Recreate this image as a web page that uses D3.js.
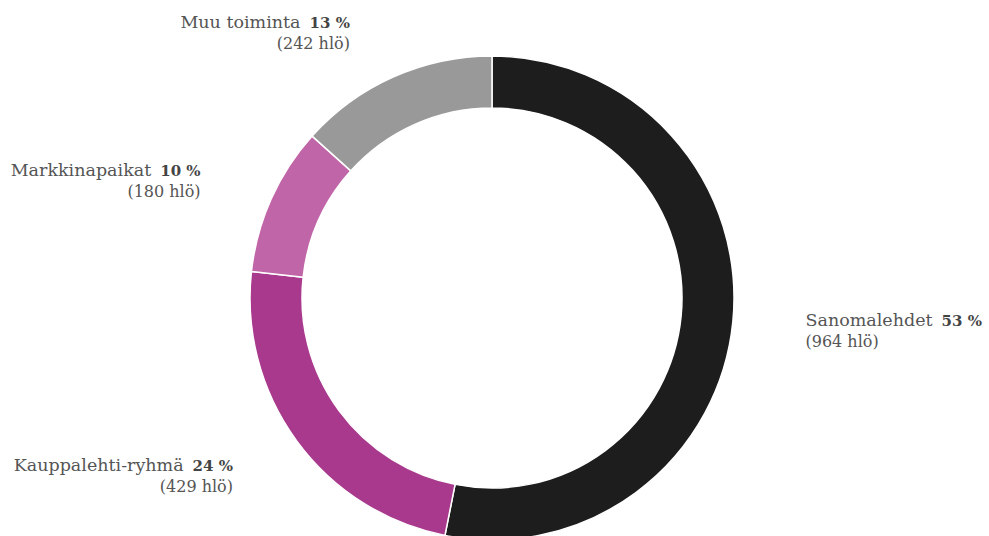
<!DOCTYPE html>
<html>
<head>
<meta charset="utf-8">
<script src="https://cdn.jsdelivr.net/npm/d3@7"></script>
<style>
  html, body { margin: 0; padding: 0; background: #fff; }
  svg { display: block; }
  .name { font-family: "DejaVu Serif", serif; font-size: 17.5px; fill: #555; }
  .pct { font-family: "DejaVu Serif", serif; font-size: 15px; font-weight: bold; fill: #444; }
  .count { font-family: "DejaVu Serif", serif; font-size: 16px; fill: #555; }
</style>
</head>
<body>
<svg id="chart" width="989" height="536"></svg>
<script>
// Henkilöstö liiketoiminnoittain
const categories = ["Sanomalehdet", "Kauppalehti-ryhmä", "Markkinapaikat", "Muu toiminta"];
const headcounts = [964, 429, 180, 242];
const percentLabels = ["53 %", "24 %", "10 %", "13 %"];
const colors = ["#1d1d1d", "#a8398d", "#c066a8", "#999999"];

// Label layout: [dx, dy] nudges (px) applied after placing at the label radius
const labelNudge = [[0, -3], [-5, -13], [-4, 7], [-14, 18]];

const width = 989, height = 536;
const cx = 492, cy = 298;
const outerR = 242, innerR = 190, labelR = 315;

const svg = d3.select("#chart");
const g = svg.append("g").attr("transform", `translate(${cx},${cy})`);

const pie = d3.pie().sort(null).value(d => d.value);
const data = categories.map((c, i) => ({ name: c, value: headcounts[i], pct: percentLabels[i], color: colors[i], nudge: labelNudge[i] }));
const arcs = pie(data);

const arc = d3.arc().innerRadius(innerR).outerRadius(outerR);

g.selectAll("path.slice")
  .data(arcs)
  .join("path")
  .attr("class", "slice")
  .attr("d", arc)
  .attr("fill", d => d.data.color)
  .attr("stroke", "#fff")
  .attr("stroke-width", 1.5)
  .attr("stroke-linejoin", "round");

const labelArc = d3.arc().innerRadius(labelR).outerRadius(labelR);

g.selectAll("g.label")
  .data(arcs)
  .join("g")
  .attr("class", "label")
  .each(function(d) {
    const [x0, y0] = labelArc.centroid(d);
    const mid = (d.startAngle + d.endAngle) / 2;
    const right = mid < Math.PI;
    const x = x0 + d.data.nudge[0];
    const baseY = y0 + d.data.nudge[1];
    const sel = d3.select(this);
    const t = sel.append("text")
      .attr("x", x)
      .attr("y", baseY)
      .attr("text-anchor", right ? "start" : "end");
    t.append("tspan").attr("class", "name").text(d.data.name);
    t.append("tspan").attr("class", "pct").attr("dx", 9).text(d.data.pct);
    sel.append("text")
      .attr("class", "count")
      .attr("x", x)
      .attr("y", baseY + 21)
      .attr("text-anchor", right ? "start" : "end")
      .text(`(${d.data.value} hlö)`);
  });
</script>
</body>
</html>
